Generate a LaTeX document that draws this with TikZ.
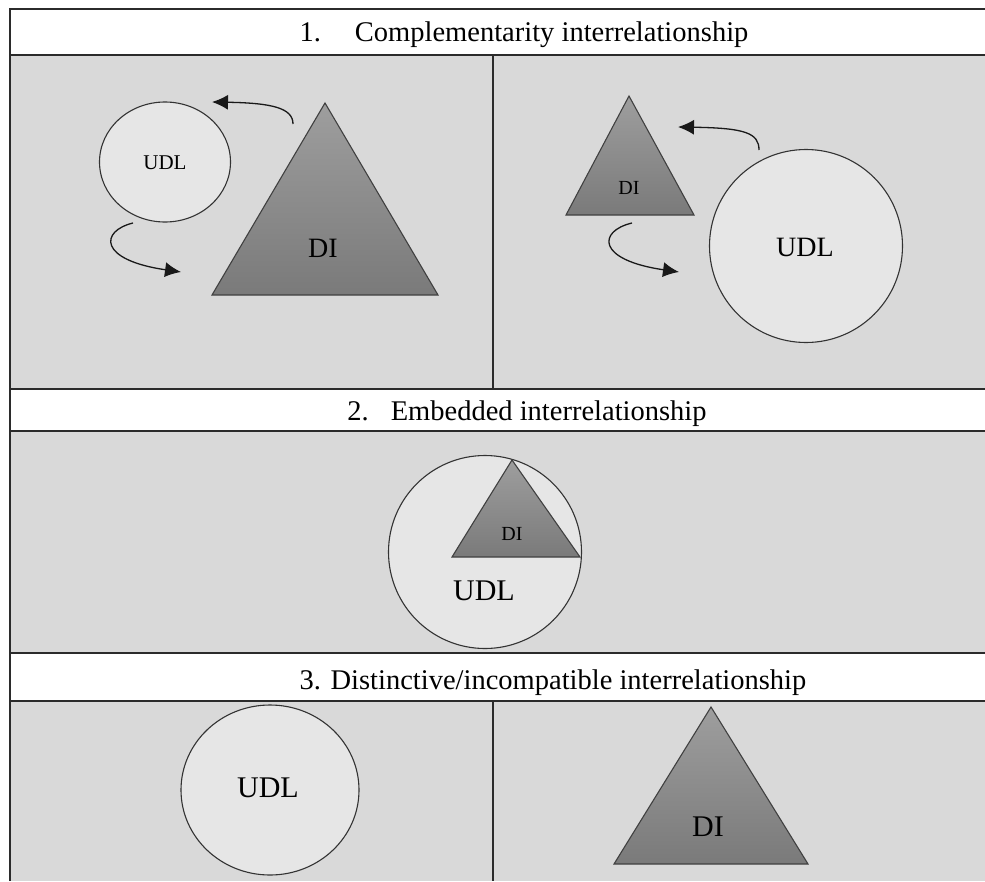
\documentclass[tikz,border=0pt]{standalone}
\usepackage{fontspec}
\setmainfont{Liberation Serif}
\usetikzlibrary{arrows.meta,shapes.geometric}
\definecolor{panelbg}{HTML}{D9D9D9}
\definecolor{shapefill}{HTML}{E6E6E6}
\definecolor{tritop}{HTML}{9E9E9E}
\definecolor{tribot}{HTML}{7A7A7A}
\definecolor{rulecol}{HTML}{2B2B2B}

\begin{document}
\begin{tikzpicture}[x=1pt,y=-1pt,
  frame/.style={draw=rulecol, line width=2pt},
  udl/.style={ellipse, draw=black!80, line width=1.1pt, fill=shapefill, inner sep=0pt},
  di/.style={draw=black!75, line width=1.1pt, line join=miter, top color=tritop, bottom color=tribot},
  lbl/.style={inner sep=0pt, text=black},
  heading/.style={inner sep=0pt, anchor=base, font=\fontsize{28.5}{31}\selectfont},
  flow/.style={draw=black!90, line width=1.3pt, -{Latex[length=16pt,width=15pt]}},
]
\useasboundingbox (0,0) rectangle (985,881);

% table background: white heading bands, grey panels
\fill[white] (10,9) rectangle (985,881);
\fill[panelbg] (10,55) rectangle (985,389);
\fill[panelbg] (10,431) rectangle (985,653);
\fill[panelbg] (10,701) rectangle (985,881);

% table rules
\draw[frame] (10,881) -- (10,9) -- (985,9);
\draw[frame] (10,55) -- (985,55);
\draw[frame] (10,389) -- (985,389);
\draw[frame] (10,431) -- (985,431);
\draw[frame] (10,653) -- (985,653);
\draw[frame] (10,701) -- (985,701);
\draw[line width=1.6pt, draw=rulecol] (493,55) -- (493,389);
\draw[line width=1.6pt, draw=rulecol] (493,701) -- (493,881);

% headings
\node[heading] (h1) at (524,41) {1.\hspace{34pt}Complementarity interrelationship};
\node[heading] (h2) at (527,420) {2.\hspace{22pt}Embedded interrelationship};
\node[heading] (h3) at (553,689) {3. Distinctive/incompatible interrelationship};

% ---- 1. complementarity, left: UDL leads ----
\node[udl, minimum width=131pt, minimum height=120pt] (u1) at (165,162) {};
\node[lbl, font=\fontsize{21}{24}\selectfont] (u1t) at (165,163) {UDL};
\coordinate (t1a) at (325,103);
\coordinate (t1b) at (212,295);
\coordinate (t1c) at (438,295);
\path[di] (t1a) -- (t1b) -- (t1c) -- cycle;
\node[lbl, font=\fontsize{28}{30}\selectfont] (t1t) at (323,248) {DI};
\coordinate (a1s) at (293,124);
\coordinate (a1e) at (212,102);
\draw[flow] (a1s) .. controls (293,108) and (272,103) .. (a1e);
\coordinate (a2s) at (133,223);
\coordinate (a2e) at (181,272);
\draw[flow] (a2s) .. controls (100,231) and (98,260) .. (a2e);

% ---- 1. complementarity, right: DI leads ----
\coordinate (t2a) at (629,96);
\coordinate (t2b) at (566,215);
\coordinate (t2c) at (694,215);
\path[di] (t2a) -- (t2b) -- (t2c) -- cycle;
\node[lbl, font=\fontsize{20}{22}\selectfont] (t2t) at (629,188) {DI};
\node[udl, minimum width=193pt, minimum height=193pt] (u2) at (806,246) {};
\node[lbl, font=\fontsize{28}{30}\selectfont] (u2t) at (805,247) {UDL};
\coordinate (a3s) at (759,150);
\coordinate (a3e) at (678,127);
\draw[flow] (a3s) .. controls (759,133) and (745,128) .. (a3e);
\coordinate (a4s) at (632,223);
\coordinate (a4e) at (679,272);
\draw[flow] (a4s) .. controls (598,231) and (596,260) .. (a4e);

% ---- 2. embedded ----
\node[udl, minimum width=193pt, minimum height=193pt] (u3) at (485,552) {};
\coordinate (t3a) at (512,460);
\coordinate (t3b) at (452,557);
\coordinate (t3c) at (580,557);
\path[di] (t3a) -- (t3b) -- (t3c) -- cycle;
\node[lbl, font=\fontsize{20}{22}\selectfont] (t3t) at (512,534) {DI};
\node[lbl, font=\fontsize{30}{32}\selectfont] (u3t) at (484,591) {UDL};

% ---- 3. distinctive / incompatible ----
\node[udl, minimum width=178pt, minimum height=170pt] (u4) at (270,790) {};
\node[lbl, font=\fontsize{30}{32}\selectfont] (u4t) at (268,788) {UDL};
\coordinate (t4a) at (711,707);
\coordinate (t4b) at (614,864);
\coordinate (t4c) at (808,864);
\path[di] (t4a) -- (t4b) -- (t4c) -- cycle;
\node[lbl, font=\fontsize{30}{32}\selectfont] (t4t) at (708,827) {DI};
\end{tikzpicture}
\end{document}
